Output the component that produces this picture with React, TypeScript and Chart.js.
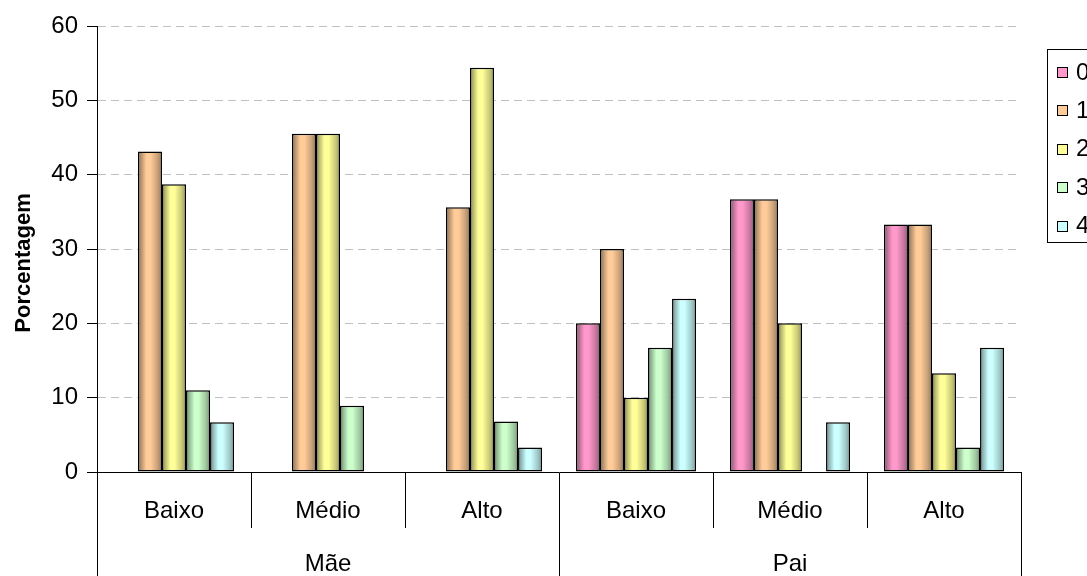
import { useEffect, useRef } from "react";
import { Chart, registerables } from "chart.js";

Chart.register(...registerables);

// Sub-categories along the x axis, grouped by parent
const subCategories = ["Baixo", "Médio", "Alto", "Baixo", "Médio", "Alto"];
const groups = ["Mãe", "Pai"];

// Series (legend entries) and their percentages per sub-category
const seriesNames = ["0", "1", "2", "3", "4"];
const series0 = [null, null, null, 20, 36.7, 33.3];
const series1 = [43.1, 45.5, 35.6, 30, 36.7, 33.3];
const series2 = [38.7, 45.5, 54.4, 10, 20, 13.3];
const series3 = [11.0, 8.9, 6.8, 16.7, null, 3.3];
const series4 = [6.7, null, 3.3, 23.3, 6.7, 16.7];
const seriesValues = [series0, series1, series2, series3, series4];

const yMin = 0;
const yMax = 60;
const yStep = 10;
const yTitle = "Porcentagem";

const seriesColors = ["#FF99CC", "#FFCC99", "#FFFF99", "#CCFFCC", "#CCFFFF"];

const FONT = "'Liberation Sans', Arial, sans-serif";

// Horizontal shading stops for the cylinder-like bar fill: [position, brightness]
const shadeStops: [number, number][] = [
  [0, 0.5],
  [0.12, 0.7],
  [0.35, 1.0],
  [0.52, 1.0],
  [0.8, 0.8],
  [1, 0.6],
];

function shade(hex: string, f: number): string {
  const n = parseInt(hex.slice(1), 16);
  const r = Math.round(((n >> 16) & 255) * f);
  const g = Math.round(((n >> 8) & 255) * f);
  const b = Math.round((n & 255) * f);
  return `rgb(${r},${g},${b})`;
}

const shadePlugin = {
  id: "cylinderShade",
  beforeDatasetsDraw(chart: any) {
    const ctx = chart.ctx;
    chart.data.datasets.forEach((_ds: any, di: number) => {
      const meta = chart.getDatasetMeta(di);
      const base = seriesColors[di];
      meta.data.forEach((el: any) => {
        const { x, width } = el.getProps(["x", "width"], true);
        if (!isFinite(x) || !isFinite(width) || !el.options) return;
        const g = ctx.createLinearGradient(x - width / 2, 0, x + width / 2, 0);
        shadeStops.forEach(([p, f]) => g.addColorStop(p, shade(base, f)));
        el.options.backgroundColor = g;
      });
    });
  },
};

// Vertical axis title, placed a little below the plot's mid-height
const yTitlePlugin = {
  id: "yAxisTitle",
  afterDraw(chart: any) {
    const ctx = chart.ctx;
    const area = chart.chartArea;
    ctx.save();
    ctx.translate(24, (area.top + area.bottom) / 2 + 14);
    ctx.rotate(-Math.PI / 2);
    ctx.font = `bold 22px ${FONT}`;
    ctx.fillStyle = "#000";
    ctx.textAlign = "center";
    ctx.textBaseline = "middle";
    ctx.fillText(yTitle, 0, 0);
    ctx.restore();
  },
};

const legendPlugin = {
  id: "sideLegend",
  afterDraw(chart: any) {
    const ctx = chart.ctx;
    const left = 1047;
    const top = 49;
    const pitch = 38.4;
    ctx.save();
    ctx.strokeStyle = "#000";
    ctx.lineWidth = 1;
    ctx.strokeRect(left + 0.5, top + 0.5, 80, 193);
    ctx.font = `24px ${FONT}`;
    ctx.textBaseline = "middle";
    ctx.textAlign = "left";
    seriesNames.forEach((name, i) => {
      const cy = top + 23 + i * pitch;
      const sy = Math.round(cy - 5);
      ctx.fillStyle = seriesColors[i];
      ctx.fillRect(left + 10, sy, 10, 10);
      ctx.strokeStyle = "#000";
      ctx.strokeRect(left + 10.5, sy + 0.5, 10, 10);
      ctx.fillStyle = "#000";
      ctx.fillText(name, left + 29, cy + 1);
    });
    ctx.restore();
  },
};

export default function App() {
  const canvasRef = useRef<HTMLCanvasElement | null>(null);

  useEffect(() => {
    if (!canvasRef.current) return;
    Chart.defaults.color = "#000";
    Chart.defaults.font.family = FONT;

    const chart = new Chart(canvasRef.current, {
      type: "bar",
      data: {
        labels: subCategories,
        datasets: seriesValues.map((vals, i) => ({
          label: seriesNames[i],
          data: vals,
          backgroundColor: () => seriesColors[i],
          borderColor: "#000",
          borderWidth: 1.5,
          borderSkipped: false,
          categoryPercentage: 0.78,
          barPercentage: 1,
        })),
      },
      options: {
        animation: false,
        responsive: true,
        maintainAspectRatio: false,
        layout: { padding: { top: 26, right: 66, left: 0, bottom: 0 } },
        plugins: {
          legend: { display: false },
          tooltip: { enabled: false },
        },
        scales: {
          x: {
            type: "category",
            position: "bottom",
            weight: 0,
            offset: true,
            grid: {
              display: true,
              offset: true,
              drawOnChartArea: false,
              drawTicks: true,
              tickLength: 56,
              tickColor: "#000",
              lineWidth: 1,
            },
            border: { display: true, color: "#000", width: 1 },
            ticks: {
              font: { size: 24 },
              padding: -31,
              maxRotation: 0,
              autoSkip: false,
            },
            afterFit: (s: any) => {
              s.height = 56;
            },
          },
          x2: {
            type: "category",
            position: "bottom",
            weight: 1,
            labels: groups,
            offset: true,
            grid: {
              display: true,
              offset: true,
              drawOnChartArea: false,
              drawTicks: true,
              tickLength: 48,
              tickColor: "#000",
              lineWidth: 1,
            },
            border: { display: false },
            ticks: {
              font: { size: 24 },
              padding: -26,
              maxRotation: 0,
              autoSkip: false,
            },
            afterFit: (s: any) => {
              s.height = 48;
            },
          },
          y: {
            min: yMin,
            max: yMax,
            ticks: {
              stepSize: yStep,
              font: { size: 24 },
              padding: 9,
            },
            grid: {
              color: (c: any) =>
                c.tick && c.tick.value === yMin ? "rgba(0,0,0,0)" : "#c0c0c0",
              lineWidth: 1,
              drawTicks: true,
              tickLength: 10,
              tickColor: "#000",
              tickBorderDash: [],
            },
            border: { display: true, color: "#000", width: 1, dash: [8, 5] },
            title: { display: false },
            afterFit: (s: any) => {
              s.width = 97;
            },
          },
        },
      } as any,
      plugins: [shadePlugin, yTitlePlugin, legendPlugin],
    });

    return () => chart.destroy();
  }, []);

  return (
    <div
      style={{
        position: "fixed",
        left: 0,
        top: 0,
        width: 1087,
        height: 576,
        background: "#fff",
      }}
    >
      <canvas ref={canvasRef} />
    </div>
  );
}
